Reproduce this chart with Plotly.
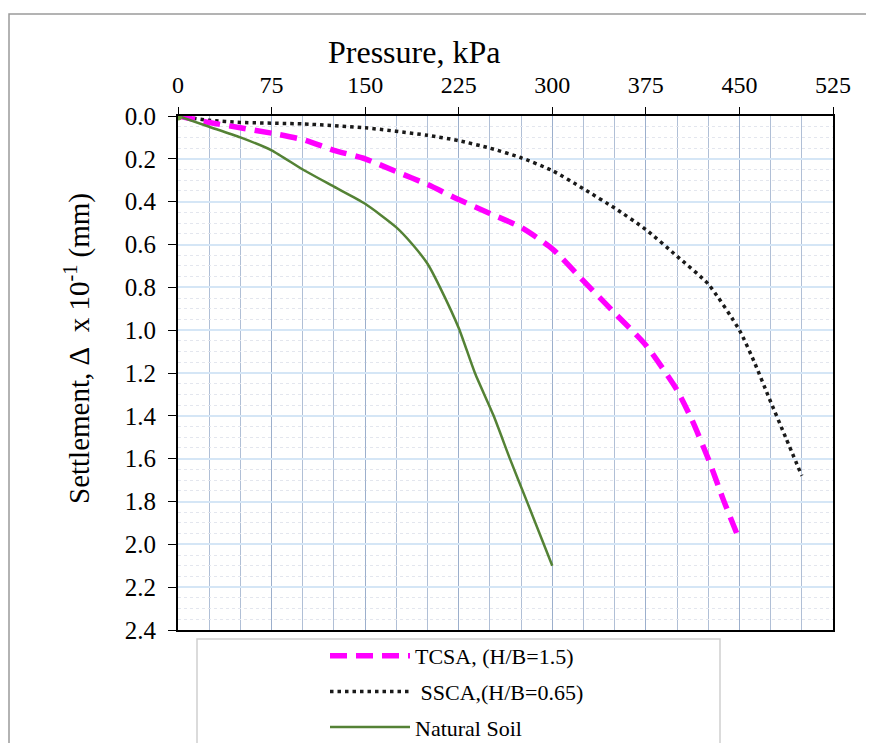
import plotly.graph_objects as go

# ---------------- data ----------------
tcsa_p = [0, 25, 50, 75, 100, 125, 150, 175, 200, 225, 250, 275, 300, 325, 350, 375, 400, 412, 425, 437, 450]
tcsa_s = [0, 0.03, 0.055, 0.08, 0.11, 0.16, 0.20, 0.26, 0.32, 0.39, 0.455, 0.52, 0.62, 0.77, 0.92, 1.07, 1.28, 1.42, 1.60, 1.79, 1.98]

ssca_p = [0, 25, 50, 100, 150, 200, 225, 250, 275, 300, 325, 350, 375, 400, 425, 450, 462, 474, 487, 500]
ssca_s = [0, 0.02, 0.03, 0.037, 0.055, 0.09, 0.115, 0.15, 0.195, 0.255, 0.34, 0.43, 0.53, 0.655, 0.785, 1.0, 1.15, 1.32, 1.50, 1.68]

soil_p = [0, 25, 50, 75, 100, 125, 150, 175, 188, 200, 210, 225, 238, 253, 266, 279, 300]
soil_s = [0, 0.05, 0.10, 0.16, 0.25, 0.33, 0.41, 0.52, 0.60, 0.69, 0.80, 0.99, 1.20, 1.40, 1.60, 1.79, 2.10]

names = ["TCSA, (H/B=1.5)", "\u00a0SSCA,(H/B=0.65)", "Natural Soil"]
x_ticks = [0, 75, 150, 225, 300, 375, 450, 525]
y_ticks = [0.0, 0.2, 0.4, 0.6, 0.8, 1.0, 1.2, 1.4, 1.6, 1.8, 2.0, 2.2, 2.4]

FONT = "Liberation Serif, Times New Roman, serif"

# page offset (default body margin) and plot area
OFF = 8
W, H = 874, 743
L, T = 178 - OFF, 116 - OFF
R = W - (833 - OFF)
B = H - (630 - OFF)
PW, PH = W - L - R, H - T - B


def px(sx):
    return (sx - OFF - L) / PW


def py(sy):
    return (H - B - (sy - OFF)) / PH


def cx(sx):
    return (sx - OFF) / W


def cy(sy):
    return 1 - (sy - OFF) / H


fig = go.Figure()

fig.add_trace(go.Scatter(
    x=ssca_p, y=ssca_s, name=names[1], mode="lines", legendgroup="b", legendrank=2,
    line=dict(color="#1a1a1a", width=3.5, dash="3.5px,4px", shape="spline", smoothing=0.6),
))
fig.add_trace(go.Scatter(
    x=tcsa_p, y=tcsa_s, name=names[0], mode="lines", legendgroup="a", legendrank=1,
    line=dict(color="#ff00ff", width=5.5, dash="17px,9px", shape="spline", smoothing=0.6),
))
fig.add_trace(go.Scatter(
    x=soil_p, y=soil_s, name=names[2], mode="lines", legendgroup="c", legendrank=3,
    line=dict(color="#548235", width=2.5, shape="spline", smoothing=0.6),
))
fig.add_trace(go.Scatter(
    x=soil_p[:1], y=soil_s[:1], mode="markers", showlegend=False,
    marker=dict(color="#6a9a3c", size=9),
))

fig.update_layout(
    width=W, height=H,
    margin=dict(l=L, r=R, t=T, b=B, pad=0, autoexpand=False),
    paper_bgcolor="white", plot_bgcolor="white",
    font=dict(family=FONT, color="black", size=24),
    legend=dict(
        xref="container", yref="container",
        x=cx(325), y=cy(635), xanchor="left", yanchor="top",
        font=dict(family=FONT, size=22, color="black"),
        bgcolor="rgba(0,0,0,0)", borderwidth=0, itemwidth=80,
        traceorder="grouped", tracegroupgap=4,
    ),
    xaxis=dict(
        side="top", range=[0, 525], tickvals=x_ticks,
        ticks="outside", ticklen=7, tickcolor="black", tickwidth=1,
        ticklabelstandoff=4,
        showline=True, linecolor="black", linewidth=2, mirror=True,
        showgrid=True, gridcolor="rgba(150,170,200,0.75)", gridwidth=1,
        minor=dict(dtick=25, showgrid=True, gridcolor="rgba(150,170,200,0.75)", gridwidth=1),
        zeroline=False,
        tickfont=dict(family=FONT, size=24),
    ),
    yaxis=dict(
        range=[2.4, 0], tickvals=y_ticks, tickformat=".1f",
        ticks="outside", ticklen=8, tickcolor="black", tickwidth=1,
        ticklabelstandoff=7,
        showline=True, linecolor="black", linewidth=2, mirror=True,
        showgrid=True, gridcolor="#d5e6f6", gridwidth=1.5,
        minor=dict(dtick=0.05, showgrid=True, gridcolor="#e3e6ee", gridwidth=1, griddash="dot"),
        zeroline=False,
        tickfont=dict(family=FONT, size=25),
    ),
    shapes=[
        # outer chart frame
        dict(type="rect", xref="paper", yref="paper",
             x0=px(9), x1=px(900), y0=py(790), y1=py(14),
             line=dict(color="#9a9a9a", width=1.5), layer="below"),
        # legend frame
        dict(type="rect", xref="paper", yref="paper",
             x0=px(197), x1=px(720), y0=py(790), y1=py(639),
             line=dict(color="#d0d0d0", width=1.5), layer="below"),
    ],
    annotations=[
        dict(text="Pressure, kPa", xref="paper", yref="paper",
             x=px(414), y=py(52), xanchor="center", yanchor="middle",
             showarrow=False, font=dict(family=FONT, size=32)),
        dict(text="Settlement, \u0394\u00a0 x 10<sup>-1</sup> (mm)", xref="paper", yref="paper",
             x=px(77), y=py(349), xanchor="center", yanchor="middle", textangle=-90,
             showarrow=False, font=dict(family=FONT, size=29)),
    ],
)

fig.write_html("out.html")
